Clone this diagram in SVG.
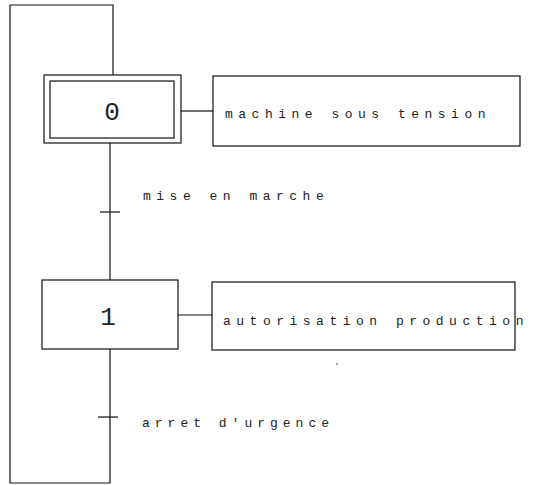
<svg xmlns="http://www.w3.org/2000/svg" width="533" height="485" viewBox="0 0 533 485">
<style>
.ln{fill:none;stroke:#111;stroke-width:1.2}
.lbl{font-family:"Liberation Mono","DejaVu Sans Mono",monospace;font-size:13px;letter-spacing:5.5px;fill:#222}
.num{font-family:"Liberation Mono","DejaVu Sans Mono",monospace;font-size:26px;fill:#222;text-anchor:middle}
</style>
<rect width="533" height="485" fill="#fff"/>
<g id="connectors" class="ln">
<polyline points="110,349 110,483 10,483 10,5 113,5 113,75"/>
<line x1="110" y1="143" x2="110" y2="280"/>
<line x1="181" y1="111" x2="213" y2="111"/>
<line x1="178" y1="315" x2="212" y2="315"/>
</g>
<g id="step0">
<rect class="ln" x="44" y="75" width="137" height="68"/>
<rect class="ln" x="50" y="81" width="124" height="57"/>
<text class="num" x="112" y="120">0</text>
</g>
<g id="action0">
<rect class="ln" x="213" y="76" width="307" height="70"/>
<text class="lbl" x="225" y="118">machine sous tension</text>
</g>
<g id="transition1">
<line class="ln" x1="100" y1="212" x2="120" y2="212"/>
<text class="lbl" x="143" y="200">mise en marche</text>
</g>
<g id="step1">
<rect class="ln" x="42" y="280" width="136" height="69"/>
<text class="num" x="108" y="325">1</text>
</g>
<g id="action1">
<rect class="ln" x="212" y="282" width="303" height="68"/>
<text class="lbl" x="223" y="325">autorisation production</text>
<circle cx="337" cy="364" r="0.8" fill="#444"/>
</g>
<g id="transition2">
<line class="ln" x1="98" y1="417" x2="118" y2="417"/>
<text class="lbl" x="142" y="427" style="letter-spacing:5px">arret d'urgence</text>
</g>
</svg>
